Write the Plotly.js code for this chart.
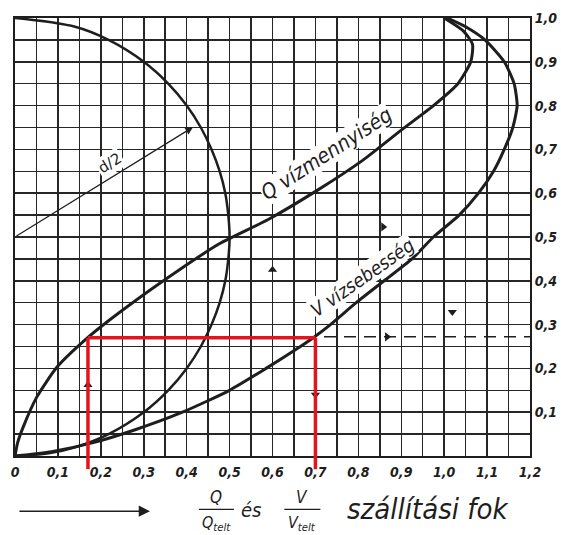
<!DOCTYPE html>
<html><head><meta charset="utf-8">
<script src="https://cdn.plot.ly/plotly-3.0.1.min.js"></script>
<style>html,body{margin:0;padding:0;background:#fff}#chart{width:561px;height:535px}</style>
</head><body><div id="chart"></div>
<script>
// tick labels
const xTickVals = [0,0.1,0.2,0.3,0.4,0.5,0.6,0.7,0.8,0.9,1.0,1.1,1.2];
const xTickText = ['0','0,1','0,2','0,3','0,4','0,5','0,6','0,7','0,8','0,9','1,0','1,1','1,2'];
const yTickVals = [0.1,0.2,0.3,0.4,0.5,0.6,0.7,0.8,0.9,1.0];
const yTickText = ['0,1','0,2','0,3','0,4','0,5','0,6','0,7','0,8','0,9','1,0'];

// Q/Qtelt curve (x = Q ratio, y = filling h/d)
const qX = [0, 0.006, 0.019, 0.051, 0.098, 0.168, 0.221, 0.315, 0.39, 0.475, 0.59, 0.705, 0.81, 0.90, 0.975, 1.032, 1.062, 1.066, 1.045, 1.0];
const qY = [0, 0.03, 0.066, 0.135, 0.203, 0.269, 0.311, 0.379, 0.43, 0.484, 0.54, 0.607, 0.675, 0.744, 0.80, 0.85, 0.90, 0.94, 0.97, 1.0];

// V/Vtelt curve
const vX = [0, 0.085, 0.18, 0.28, 0.39, 0.50, 0.585, 0.665, 0.695, 0.735, 0.795, 0.86, 0.925, 0.975, 1.035, 1.08, 1.115, 1.14, 1.16, 1.17, 1.163, 1.14, 1.095, 1.05, 1.007];
const vY = [0, 0.01, 0.03, 0.06, 0.10, 0.15, 0.20, 0.25, 0.27, 0.30, 0.35, 0.40, 0.45, 0.50, 0.55, 0.60, 0.65, 0.70, 0.75, 0.80, 0.85, 0.90, 0.95, 0.98, 1.0];

// pipe cross-section (d/2 half circle)
const circX = [0, 0.082, 0.14, 0.218, 0.30, 0.357, 0.40, 0.433, 0.458, 0.477, 0.49, 0.497, 0.50, 0.497, 0.49, 0.477, 0.458, 0.433, 0.40, 0.357, 0.30, 0.218, 0.14, 0];
const circY = [0, 0.007, 0.02, 0.05, 0.10, 0.15, 0.20, 0.25, 0.30, 0.35, 0.40, 0.45, 0.50, 0.55, 0.60, 0.65, 0.70, 0.75, 0.80, 0.85, 0.90, 0.95, 0.98, 1.0];

// radius arrow d/2
const radiusX = [0, 0.415];
const radiusY = [0.5, 0.751];

// red reading lines
const redX = [0.17, 0.70];
const redY = 0.27;

// dashed helper line and arrowheads
const dashX = [0.72, 1.2];
const dashY = [0.272, 0.272];
const upX = [0.17, 0.60], upY = [0.162, 0.425];
const downX = [0.70, 1.019], downY = [0.14, 0.329];
const rightX = [0.867, 0.858], rightY = [0.272, 0.523];

const ink = '#1e1e1e';
const gridCol = '#262626';
const tickFont = {family: 'Liberation Sans Narrow, DejaVu Sans Condensed, Arial Narrow, sans-serif', size: 14, color: ink, style: 'italic', weight: 'bold'};

const traces = [
  {x: circX, y: circY, mode: 'lines', line: {color: ink, width: 2.5, shape: 'spline', smoothing: 1}, hoverinfo: 'skip'},
  {x: qX, y: qY, mode: 'lines', line: {color: ink, width: 3, shape: 'spline', smoothing: 0.6}, hoverinfo: 'skip'},
  {x: vX, y: vY, mode: 'lines', line: {color: ink, width: 3, shape: 'spline', smoothing: 0.6}, hoverinfo: 'skip'},
  {x: dashX, y: dashY, mode: 'lines', line: {color: ink, width: 1.5, dash: '12px,8px'}, hoverinfo: 'skip'},
  {x: upX, y: upY, mode: 'markers', marker: {symbol: 'triangle-up', size: 8, color: ink}, cliponaxis: false},
  {x: downX, y: downY, mode: 'markers', marker: {symbol: 'triangle-down', size: 8, color: ink}, cliponaxis: false},
  {x: rightX, y: rightY, mode: 'markers', marker: {symbol: 'triangle-right', size: 8, color: ink}, cliponaxis: false}
];

const red = '#e3141d';
const shapes = [
  {type: 'line', xref: 'x', yref: 'paper', x0: redX[0], x1: redX[0], y0: -0.03, y1: redY, line: {color: red, width: 3.5}},
  {type: 'line', xref: 'x', yref: 'y', x0: redX[0], x1: redX[1], y0: redY, y1: redY, line: {color: red, width: 3.5}},
  {type: 'line', xref: 'x', yref: 'paper', x0: redX[1], x1: redX[1], y0: -0.03, y1: redY, line: {color: red, width: 3.5}},
  // fraction bars of the axis title
  {type: 'line', xref: 'paper', yref: 'paper', x0: 0.357, x1: 0.425, y0: -0.122, y1: -0.122, line: {color: ink, width: 1.3}},
  {type: 'line', xref: 'paper', yref: 'paper', x0: 0.523, x1: 0.593, y0: -0.122, y1: -0.122, line: {color: ink, width: 1.3}}
];

const labFont = {family: 'Liberation Sans Narrow, DejaVu Sans Condensed, sans-serif', color: ink, style: 'italic'};
function txt(x, y, text, size) {
  return {x: x, y: y, xref: 'paper', yref: 'paper', xanchor: 'center', yanchor: 'middle', text: text, showarrow: false,
          font: Object.assign({size: size}, labFont)};
}
const annotations = [
  {x: radiusX[1], y: radiusY[1], ax: radiusX[0], ay: radiusY[0], xref: 'x', yref: 'y', axref: 'x', ayref: 'y',
   showarrow: true, arrowhead: 2, arrowsize: 1.3, arrowwidth: 1.2, arrowcolor: ink, text: ''},
  {x: 0.222, y: 0.668, xref: 'x', yref: 'y', xanchor: 'center', yanchor: 'middle', text: 'd/2', showarrow: false, textangle: -32,
   font: {size: 15, family: 'DejaVu Sans, sans-serif', color: ink}, bgcolor: '#fff', borderpad: 1},
  {x: 0.725, y: 0.69, xref: 'x', yref: 'y', xanchor: 'center', yanchor: 'middle', text: 'Q vízmennyiség', showarrow: false, textangle: -33,
   font: Object.assign({size: 21}, labFont), bgcolor: '#fff', borderpad: 0},
  {x: 0.81, y: 0.408, xref: 'x', yref: 'y', xanchor: 'center', yanchor: 'middle', text: 'V vízsebesség', showarrow: false, textangle: -35,
   font: Object.assign({size: 19}, labFont), bgcolor: '#fff', borderpad: 0},
  // axis title pieces
  {x: 0.262, y: -0.126, xref: 'paper', yref: 'paper', ax: -132, ay: 0, text: '', showarrow: true,
   arrowhead: 2, arrowsize: 1.6, arrowwidth: 1.4, arrowcolor: ink},
  txt(0.391, -0.094, 'Q', 17),
  txt(0.391, -0.153, 'Q<sub>telt</sub>', 16),
  txt(0.458, -0.124, 'és', 20),
  txt(0.558, -0.094, 'V', 17),
  txt(0.558, -0.153, 'V<sub>telt</sub>', 16),
  txt(0.80, -0.122, 'szállítási fok', 29)
];

const axisCommon = {
  showgrid: true, gridcolor: gridCol, gridwidth: 1.5,
  minor: {dtick: 0.05, tick0: 0, showgrid: true, gridcolor: gridCol, gridwidth: 1.5, ticks: ''},
  showline: true, linecolor: ink, linewidth: 2, mirror: true,
  zeroline: false, ticks: '', tickfont: tickFont, fixedrange: true
};

const layout = {
  width: 561, height: 535,
  margin: {l: 15, r: 31, t: 18, b: 79},
  paper_bgcolor: '#fff', plot_bgcolor: '#fff',
  showlegend: false,
  xaxis: Object.assign({}, axisCommon, {range: [0, 1.2], tickmode: 'array', tickvals: xTickVals, ticktext: xTickText, ticklabelstandoff: 2}),
  yaxis: Object.assign({}, axisCommon, {range: [0, 1.0], side: 'right', tickmode: 'array', tickvals: yTickVals, ticktext: yTickText}),
  shapes: shapes,
  annotations: annotations
};

Plotly.newPlot('chart', traces, layout, {staticPlot: true, displayModeBar: false});
</script>
</body></html>
